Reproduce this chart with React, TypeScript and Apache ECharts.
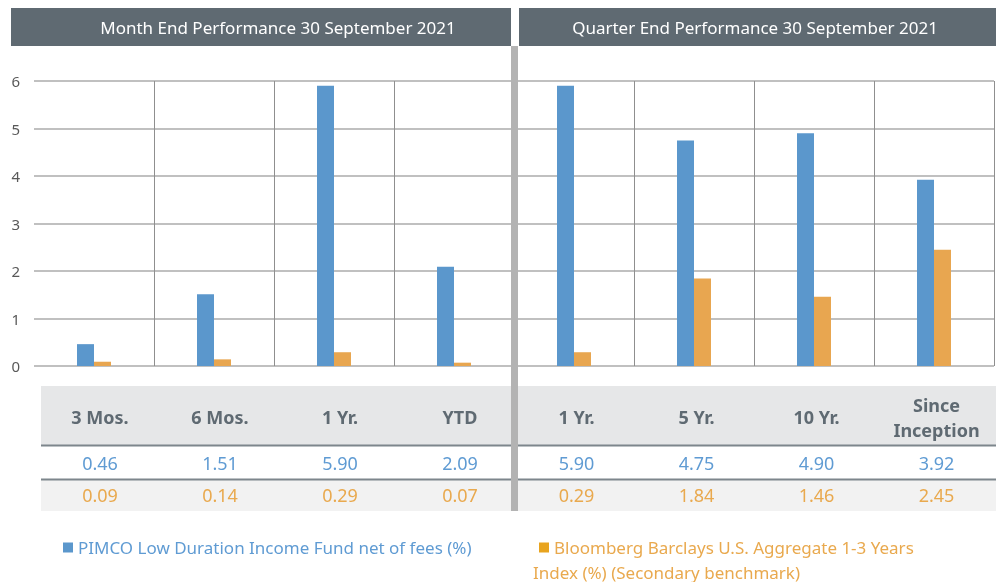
import React, { useEffect, useRef } from "react";
import * as echarts from "echarts";

const categories = ["3 Mos.", "6 Mos.", "1 Yr.", "YTD", "1 Yr.", "5 Yr.", "10 Yr.", "Since Inception"];
const fundValues = [0.46, 1.51, 5.9, 2.09, 5.9, 4.75, 4.9, 3.92];
const benchValues = [0.09, 0.14, 0.29, 0.07, 0.29, 1.84, 1.46, 2.45];
const sectionTitles = ["Month End Performance 30 September 2021", "Quarter End Performance 30 September 2021"];
const fundName = "PIMCO Low Duration Income Fund net of fees (%)";
const benchName = "Bloomberg Barclays U.S. Aggregate 1-3 Years Index (%) (Secondary benchmark)";
const benchNameLines = ["Bloomberg Barclays U.S. Aggregate 1-3 Years", "Index (%) (Secondary benchmark)"];

const FONT = "'Noto Sans', 'Open Sans', sans-serif";
const BLUE = "#5b97cc";
const ORANGE = "#e8a650";
const BLUE_TXT = "#5f9bd3";
const ORANGE_TXT = "#e9a94e";
const HEAD = "#5f6a72";

export default function App() {
  const ref = useRef<HTMLDivElement>(null);
  useEffect(() => {
    const chart = echarts.init(ref.current!, null, { renderer: "svg" });
    const wrap = (txt: string, i: number) => (i < 4 ? `{l|${txt}}` : `{r|${txt}}`);
    const richFor = (style: any) => ({
      l: { ...style, padding: [0, 0, 0, 12] },
      r: { ...style, padding: [0, 0, 0, 5] },
    });
    const rowAxis = (offset: number, fmt: (v: string, i: number) => string, style: any, extra: any = {}) => ({
      type: "category",
      data: categories,
      position: "bottom",
      offset,
      z: 3,
      axisLine: { show: false },
      axisTick: { show: false },
      splitLine: { show: false },
      axisLabel: {
        interval: 0,
        margin: 0,
        verticalAlign: "middle",
        formatter: (v: string, i: number) =>
          fmt(v, i)
            .split("\n")
            .map((t) => wrap(t, i))
            .join("\n"),
        rich: richFor({ fontFamily: FONT, ...style }),
      },
      ...extra,
    });
    const headStyle = { fontSize: 18, fontWeight: "bold", color: HEAD, lineHeight: 25 };
    chart.setOption({
      animation: false,
      grid: { left: 34, right: 2, top: 81, bottom: 216, containLabel: false },
      xAxis: [
        rowAxis(51, (v: string) => (v === "Since Inception" ? "Since\nInception" : v), headStyle, {
          splitLine: {
            show: true,
            interval: (i: number) => i !== 0 && i !== 4,
            lineStyle: { color: "#8f8f8f", width: 1 },
          },
        }),
        rowAxis(97, (_v: string, i: number) => fundValues[i].toFixed(2), { fontSize: 18, color: BLUE_TXT }),
        rowAxis(129, (_v: string, i: number) => benchValues[i].toFixed(2), { fontSize: 18, color: ORANGE_TXT }),
      ],
      yAxis: {
        type: "value",
        min: 0,
        max: 6,
        interval: 1,
        axisLine: { show: false },
        axisTick: { show: false },
        axisLabel: { margin: 14, fontSize: 15, color: "#595959", fontFamily: FONT },
        splitLine: { lineStyle: { color: "#ababab", width: 1.5 } },
      },
      legend: [
        {
          left: 58,
          top: 534,
          icon: "rect",
          itemWidth: 10,
          itemHeight: 10,
          itemGap: 6,
          data: [{ name: fundName, itemStyle: { color: BLUE }, textStyle: { color: BLUE_TXT } }],
          textStyle: { fontFamily: FONT, fontSize: 17 },
          selectedMode: false,
        },
        {
          left: 534,
          top: 534,
          icon: "rect",
          itemWidth: 10,
          itemHeight: 10,
          data: [{ name: benchName, itemStyle: { color: "#e8a41f" }, textStyle: { color: ORANGE_TXT } }],
          formatter: () => benchNameLines[0],
          textStyle: { fontFamily: FONT, fontSize: 17 },
          selectedMode: false,
        },
      ],
      series: [
        {
          name: fundName,
          type: "bar",
          data: fundValues,
          barWidth: 17,
          barGap: "0%",
          itemStyle: { color: BLUE },
          z: 2,
        },
        {
          name: benchName,
          type: "bar",
          data: benchValues,
          barWidth: 17,
          barGap: "0%",
          itemStyle: { color: ORANGE },
          z: 2,
        },
      ],
      graphic: [
        { type: "rect", z: 0, shape: { x: 11, y: 8, width: 500, height: 38 }, style: { fill: HEAD } },
        { type: "rect", z: 0, shape: { x: 519, y: 8, width: 477, height: 38 }, style: { fill: HEAD } },
        {
          type: "text",
          z: 1,
          x: 278,
          y: 27,
          style: { text: sectionTitles[0], fill: "#ffffff", font: `17px ${FONT}`, align: "center", verticalAlign: "middle" },
        },
        {
          type: "text",
          z: 1,
          x: 755,
          y: 27,
          style: { text: sectionTitles[1], fill: "#ffffff", font: `17px ${FONT}`, align: "center", verticalAlign: "middle" },
        },
        { type: "rect", z: 0, shape: { x: 41, y: 386, width: 955, height: 59 }, style: { fill: "#e6e7e8" } },
        { type: "rect", z: 0, shape: { x: 41, y: 480, width: 955, height: 31 }, style: { fill: "#f2f2f2" } },
        { type: "line", z: 1, shape: { x1: 41, y1: 445.5, x2: 996, y2: 445.5 }, style: { stroke: "#7d868c", lineWidth: 2 } },
        { type: "line", z: 1, shape: { x1: 41, y1: 479.5, x2: 996, y2: 479.5 }, style: { stroke: "#7d868c", lineWidth: 2 } },
        { type: "rect", z: 10, shape: { x: 511, y: 46, width: 7, height: 465 }, style: { fill: "#b3b3b3" } },
        {
          type: "text",
          z: 1,
          x: 533,
          y: 572,
          style: { text: benchNameLines[1], fill: ORANGE_TXT, font: `17px ${FONT}`, align: "left", verticalAlign: "middle" },
        },
      ],
    });
    return () => chart.dispose();
  }, []);
  return <div ref={ref} style={{ position: "fixed", left: 0, top: 0, width: 996, height: 582 }} />;
}
